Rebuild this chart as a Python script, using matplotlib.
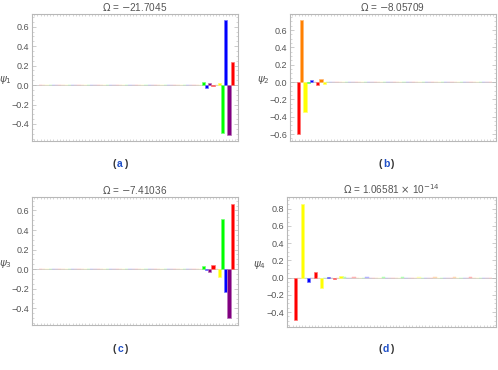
import matplotlib
matplotlib.use("Agg")
import matplotlib.pyplot as plt
import numpy as np
from matplotlib.ticker import MultipleLocator, FixedLocator

plt.rcParams['font.family'] = ['Liberation Sans', 'DejaVu Sans']
plt.rcParams['mathtext.fontset'] = 'dejavusans'

cycle_colors = ["#ff0000", "#ff8000", "#ffff00", "#00ff00", "#0000ff", "#800080"]

titles = [r"$\Omega$ = $-$21.7045", r"$\Omega$ = $-$8.05709",
          r"$\Omega$ = $-$7.41036", r"$\Omega$ = 1.06581 $\times$ 10$^{-14}$"]
ylabels = [r"$\psi_1$", r"$\psi_2$", r"$\psi_3$", r"$\psi_4$"]
captions = ["a", "b", "c", "d"]

psi1 = [0.001, -0.001, 0.001, 0.002, -0.001, 0.001, 0.001, -0.002, 0.001, 0.001,
        -0.001, 0.001, 0.002, 0.001, -0.001, 0.001, 0.001, -0.001, 0.002, 0.001,
        0.001, -0.001, 0.001, 0.002, 0.001, -0.001, 0.001, 0.001, -0.002, 0.001,
        0.001, 0.001, -0.001, 0.002, 0.001, 0.001, -0.001, 0.001, 0.002, 0.001,
        -0.001, 0.001, 0.001, 0.002, -0.001, 0.002, 0.001, -0.002, 0.003, 0.002,
        0.004, 0.030, -0.035, 0.025, -0.012, 0.002, 0.020, -0.495, 0.667, -0.513,
        0.236]
psi2 = [-0.603, 0.715, -0.343, -0.015, 0.025, 0.003, -0.035, 0.040, -0.020, 0.004,
        0.002, -0.002, 0.002, 0.001, -0.001, 0.002, 0.001, 0.001, -0.001, 0.002,
        0.001, 0.001, -0.001, 0.001, 0.002, 0.001, -0.001, 0.001, 0.001, 0.002,
        -0.001, 0.001, 0.001, 0.001, -0.001, 0.002, 0.001, 0.001, -0.001, 0.001,
        0.002, 0.001, -0.001, 0.001, 0.001, 0.002, -0.001, 0.001, 0.001, 0.001,
        -0.001, 0.002, 0.001, 0.001, -0.001, 0.001, 0.002, 0.001, -0.001, 0.001,
        0.001]
psi3 = [0.001, -0.001, 0.001, 0.002, -0.001, 0.001, 0.001, -0.002, 0.001, 0.001,
        -0.001, 0.001, 0.002, 0.001, -0.001, 0.001, 0.001, -0.001, 0.002, 0.001,
        0.001, -0.001, 0.001, 0.002, 0.001, -0.001, 0.001, 0.001, -0.002, 0.001,
        0.001, 0.001, -0.001, 0.002, 0.001, 0.001, -0.001, 0.001, 0.002, 0.001,
        -0.001, 0.001, 0.001, 0.002, -0.001, 0.002, 0.001, -0.002, 0.003, 0.002,
        0.005, 0.030, -0.012, -0.030, 0.040, 0.003, -0.075, 0.510, -0.235, -0.500,
        0.668]
psi4 = [-0.495, 0.001, 0.858, 0.001, -0.050, 0.001, 0.070, 0.001, -0.120, 0.001,
        0.012, 0.001, -0.012, 0.001, 0.020, 0.002, -0.002, 0.001, 0.002, 0.001,
        -0.001, 0.001, 0.002, 0.001, -0.001, 0.001, 0.001, 0.002, -0.001, 0.001,
        0.001, 0.001, -0.001, 0.002, 0.001, 0.001, -0.001, 0.001, 0.002, 0.001,
        -0.001, 0.001, 0.001, 0.002, -0.001, 0.001, 0.001, 0.001, -0.001, 0.002,
        0.001, 0.001, -0.001, 0.001, 0.002, 0.001, -0.001, 0.001, 0.001, 0.001,
        0.001]
series = [psi1, psi2, psi3, psi4]

ylims = [(-0.575, 0.73), (-0.68, 0.785), (-0.57, 0.737), (-0.573, 0.935)]
yticks = [[-0.4, -0.2, 0.0, 0.2, 0.4, 0.6],
          [-0.6, -0.4, -0.2, 0.0, 0.2, 0.4, 0.6],
          [-0.4, -0.2, 0.0, 0.2, 0.4, 0.6],
          [-0.4, -0.2, 0.0, 0.2, 0.4, 0.6, 0.8]]

W, H = 498, 370
# axes boxes in pixels: left, right, top, bottom
boxes = [(32, 238, 14, 141), (290, 496, 14, 141), (32, 238, 197, 325), (287, 496, 197, 327)]
cap_pos = [(120, 164), (386, 164), (120, 349), (386, 349)]

def lighten(c, f=0.45):
    r, g, b = matplotlib.colors.to_rgb(c)
    return (r + (1 - r) * f, g + (1 - g) * f, b + (1 - b) * f)

fig = plt.figure(figsize=(W / 100, H / 100), dpi=100)
frame_col = "#b8b8b8"
lab_col = "#555555"

for k in range(4):
    l, r, t, b = boxes[k]
    ax = fig.add_axes([l / W, 1 - b / H, (r - l) / W, (b - t) / H])
    vals = series[k]
    n = len(vals)
    x = np.arange(n)
    cols = [cycle_colors[i % 6] for i in range(n)]
    big = [abs(v) >= 0.008 for v in vals]
    ecols = [lighten(c) if bg else lighten(c, 0.7) for c, bg in zip(cols, big)]
    lws = [0.5 if bg else 0.35 for bg in big]
    fcols = [c if bg else lighten(c, 0.7) for c, bg in zip(cols, big)]
    ax.axhline(0, color="#c8c8c8", lw=0.6, zorder=1)
    ax.bar(x, vals, width=1.0, color=fcols, edgecolor=ecols, linewidth=lws, zorder=2)
    ax.set_xlim(-2.7, n - 1 + 1.8)
    ax.set_ylim(*ylims[k])
    ax.set_yticks(yticks[k])
    ax.set_yticklabels([f"{v:.1f}".replace("-", "\u2212") for v in yticks[k]])
    ax.yaxis.set_minor_locator(MultipleLocator(0.05))
    ax.xaxis.set_major_locator(FixedLocator(list(np.arange(-2, n + 2, 1.0))))
    ax.set_xticklabels([])
    ax.tick_params(axis='y', which='major', direction='in', length=3, width=0.5,
                   colors=frame_col, labelcolor=lab_col, labelsize=6.5, right=True, pad=2)
    ax.tick_params(axis='y', which='minor', direction='in', length=1.5, width=0.4,
                   colors=frame_col, right=True)
    ax.tick_params(axis='x', which='major', direction='in', length=1.3, width=0.4,
                   colors=frame_col, top=True)
    for s in ax.spines.values():
        s.set_color(frame_col)
        s.set_linewidth(0.8)
    ax.set_title(titles[k], fontsize=7.2, color=lab_col, pad=2)
    fig.text((l - 27) / W, 1 - ((t + b) / 2 + 3) / H, ylabels[k], fontsize=7.5,
             color=lab_col, ha='center', va='center')
    cx, cy = cap_pos[k]
    fig.text(cx / W, 1 - cy / H, captions[k], fontsize=7.5, fontweight='bold',
             color="#2050c8", ha='center', va='center')
    fig.text((cx - 3.7) / W, 1 - cy / H, "(", fontsize=7.5, fontweight='bold',
             color="#333333", ha='right', va='center')
    fig.text((cx + 3.7) / W, 1 - cy / H, ")", fontsize=7.5, fontweight='bold',
             color="#333333", ha='left', va='center')

fig.savefig("out.png", dpi=100)
